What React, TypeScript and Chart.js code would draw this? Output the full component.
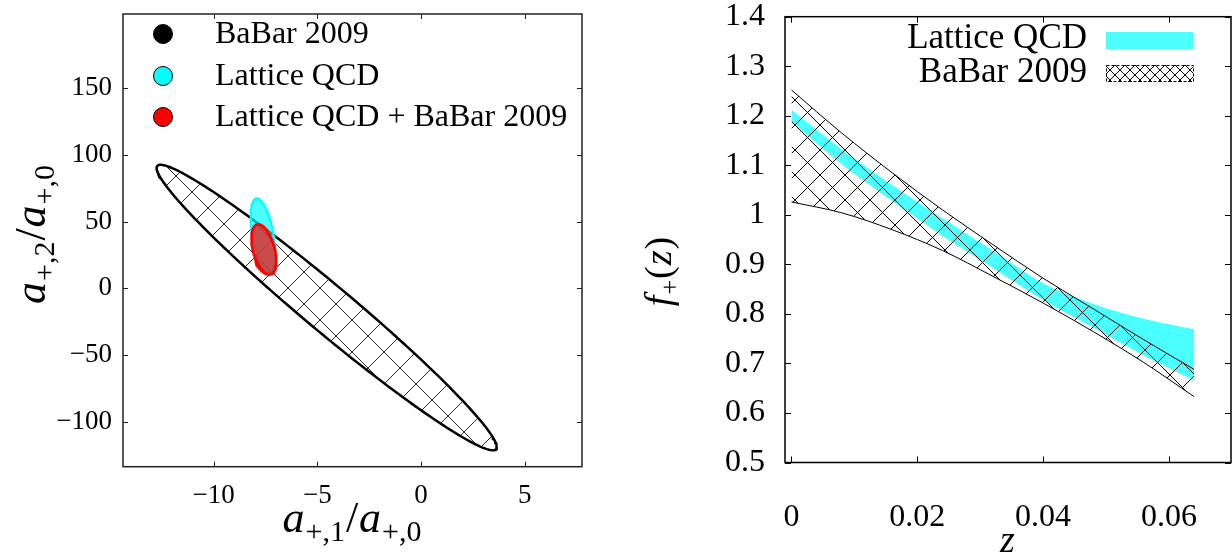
import React, { useEffect, useRef } from 'react';
import { Chart, registerables } from 'chart.js';

Chart.register(...registerables);

// ---------- Left panel data (correlation ellipses) ----------
const ellipseLabels = ['BaBar 2009', 'Lattice QCD', 'Lattice QCD + BaBar 2009'];
const ellipseCenterX = [-4.55, -7.62, -7.58];
const ellipseCenterY = [-14.4, 40.0, 29.2];
const ellipseSigmaX = [8.2, 0.6, 0.6];
const ellipseSigmaY = [107, 27.5, 18.75];
const ellipseRho = [-0.977, -0.5, -0.45];
const leftXTicks = [-10, -5, 0, 5];
const leftYTicks = [-100, -50, 0, 50, 100, 150];

// ---------- Right panel data (form factor bands) ----------
const zValues = [0, 0.008, 0.016, 0.024, 0.032, 0.04, 0.048, 0.056, 0.064];
const latticeUpper = [1.212, 1.132, 1.060, 0.993, 0.928, 0.862, 0.820, 0.790, 0.769];
const latticeLower = [1.188, 1.102, 1.028, 0.958, 0.893, 0.828, 0.772, 0.716, 0.666];
const babarUpper = [1.252, 1.165, 1.085, 1.010, 0.940, 0.872, 0.810, 0.748, 0.688];
const babarLower = [1.026, 1.004, 0.970, 0.928, 0.876, 0.822, 0.764, 0.702, 0.633];
const rightXTicks = [0, 0.02, 0.04, 0.06];
const rightYTicks = [0.5, 0.6, 0.7, 0.8, 0.9, 1.0, 1.1, 1.2, 1.3, 1.4];
const rightLegendLabels = ['Lattice QCD', 'BaBar 2009'];

const SERIF = "'Liberation Serif', 'DejaVu Serif', serif";

function ellipseOutline(i: number) {
  const pts: { x: number; y: number }[] = [];
  const n = 240;
  const s = Math.sqrt(1 - ellipseRho[i] * ellipseRho[i]);
  for (let k = 0; k <= n; k++) {
    const t = (2 * Math.PI * k) / n;
    pts.push({
      x: ellipseCenterX[i] + ellipseSigmaX[i] * Math.cos(t),
      y: ellipseCenterY[i] + ellipseSigmaY[i] * (ellipseRho[i] * Math.cos(t) + s * Math.sin(t)),
    });
  }
  return pts;
}

function makeHatch(period: number, lw: number, color: string) {
  const c = document.createElement('canvas');
  c.width = period;
  c.height = period;
  const g = c.getContext('2d')!;
  g.strokeStyle = color;
  g.lineWidth = lw;
  g.beginPath();
  g.moveTo(-1, -1);
  g.lineTo(period + 1, period + 1);
  g.moveTo(-1, period + 1);
  g.lineTo(period + 1, -1);
  g.stroke();
  return g.createPattern(c, 'repeat') as CanvasPattern;
}

type Run = { t: string; italic?: boolean; size: number; dy?: number };

function drawRuns(ctx: CanvasRenderingContext2D, runs: Run[], cx: number, baseline: number, rotate: boolean) {
  ctx.save();
  ctx.translate(cx, baseline);
  if (rotate) ctx.rotate(-Math.PI / 2);
  const fontOf = (r: Run) => `${r.italic ? 'italic ' : ''}${r.size}px ${SERIF}`;
  const widths = runs.map((r) => {
    ctx.font = fontOf(r);
    return ctx.measureText(r.t).width + 1;
  });
  const total = widths.reduce((a, b) => a + b, 0);
  let x = -total / 2;
  ctx.fillStyle = '#000';
  ctx.textBaseline = 'alphabetic';
  ctx.textAlign = 'left';
  runs.forEach((r, i) => {
    ctx.font = fontOf(r);
    ctx.fillText(r.t, x, r.dy || 0);
    x += widths[i];
  });
  ctx.restore();
}

const fmtMinus = (v: number) => (v < 0 ? '\u2212' + Math.abs(v) : String(v));
const fmtNum = (v: number) => String(+Number(v).toFixed(3));

function zeroPad(s: any) {
  s.paddingLeft = 0;
  s.paddingRight = 0;
  s.paddingTop = 0;
  s.paddingBottom = 0;
}

const leftDecor = {
  id: 'leftDecor',
  afterDraw(chart: any) {
    const ctx: CanvasRenderingContext2D = chart.ctx;
    const { left, right, top, bottom } = chart.chartArea;
    const xs = chart.scales.x;
    const ys = chart.scales.y;
    ctx.save();
    ctx.strokeStyle = '#222';
    ctx.lineWidth = 1;
    ctx.beginPath();
    leftXTicks.forEach((v) => {
      const p = Math.round(xs.getPixelForValue(v)) + 0.5;
      ctx.moveTo(p, bottom);
      ctx.lineTo(p, bottom - 5);
      ctx.moveTo(p, top);
      ctx.lineTo(p, top + 5);
    });
    leftYTicks.forEach((v) => {
      const p = Math.round(ys.getPixelForValue(v)) + 0.5;
      ctx.moveTo(left, p);
      ctx.lineTo(left + 5, p);
      ctx.moveTo(right, p);
      ctx.lineTo(right - 5, p);
    });
    ctx.stroke();
    ctx.strokeStyle = '#222';
    ctx.lineWidth = 1.5;
    ctx.strokeRect(left, top, right - left, bottom - top);

    // legend
    const markerFill = ['#000000', '#00ffff', '#ff0000'];
    const rowsY = [34, 76, 117];
    ellipseLabels.forEach((lab, i) => {
      ctx.beginPath();
      ctx.arc(163, rowsY[i], 9.5, 0, Math.PI * 2);
      ctx.fillStyle = markerFill[i];
      ctx.fill();
      ctx.strokeStyle = '#000';
      ctx.lineWidth = 1;
      ctx.stroke();
      ctx.fillStyle = '#000';
      ctx.font = `32px ${SERIF}`;
      ctx.textBaseline = 'middle';
      ctx.textAlign = 'left';
      ctx.fillText(lab, 215, rowsY[i] + 1);
    });
    ctx.restore();

    const big = 44;
    const sub = 30;
    drawRuns(
      ctx,
      [
        { t: 'a', italic: true, size: big },
        { t: '+,1', size: sub, dy: 9 },
        { t: '/', size: big },
        { t: 'a', italic: true, size: big },
        { t: '+,0', size: sub, dy: 9 },
      ],
      (left + right) / 2,
      532,
      false
    );
    drawRuns(
      ctx,
      [
        { t: 'a', italic: true, size: big },
        { t: '+,2', size: sub, dy: 9 },
        { t: '/', size: big },
        { t: 'a', italic: true, size: big },
        { t: '+,0', size: sub, dy: 9 },
      ],
      45,
      234,
      true
    );
  },
};

const rightDecor = {
  id: 'rightDecor',
  afterDraw(chart: any) {
    const ctx: CanvasRenderingContext2D = chart.ctx;
    const { left, right, top, bottom } = chart.chartArea;
    const xs = chart.scales.x;
    const ys = chart.scales.y;
    ctx.save();
    ctx.strokeStyle = '#000';
    ctx.lineWidth = 1;
    ctx.beginPath();
    rightXTicks.forEach((v) => {
      const p = Math.round(xs.getPixelForValue(v)) + 0.5;
      ctx.moveTo(p, bottom);
      ctx.lineTo(p, bottom - 6);
      ctx.moveTo(p, top);
      ctx.lineTo(p, top + 6);
    });
    rightYTicks.forEach((v) => {
      const p = Math.round(ys.getPixelForValue(v)) + 0.5;
      ctx.moveTo(left, p);
      ctx.lineTo(left + 6, p);
      ctx.moveTo(right, p);
      ctx.lineTo(right - 6, p);
    });
    ctx.stroke();
    ctx.lineWidth = 1.5;
    ctx.strokeRect(left, top, right - left, bottom - top);

    // legend (top right, inside)
    const textRight = 467;
    const swX = 486;
    const swW = 87;
    ctx.font = `35px ${SERIF}`;
    ctx.fillStyle = '#000';
    ctx.textAlign = 'right';
    ctx.textBaseline = 'middle';
    ctx.fillText(rightLegendLabels[0], textRight, 39);
    ctx.fillText(rightLegendLabels[1], textRight, 73);
    ctx.fillStyle = 'rgba(0,255,255,0.7)';
    ctx.fillRect(swX, 32, swW, 17);
    ctx.fillStyle = makeHatch(10, 1, '#000');
    ctx.fillRect(swX, 65, swW, 17);
    ctx.setLineDash([3, 2]);
    ctx.strokeStyle = '#000';
    ctx.lineWidth = 1;
    ctx.strokeRect(swX + 0.5, 65.5, swW, 16);
    ctx.setLineDash([]);
    ctx.restore();

    drawRuns(ctx, [{ t: 'z', italic: true, size: 38 }], (left + right) / 2, 552, false);
    drawRuns(
      ctx,
      [
        { t: 'f', italic: true, size: 38 },
        { t: '+', size: 26, dy: 7 },
        { t: '(', size: 38 },
        { t: 'z', italic: true, size: 38 },
        { t: ')', size: 38 },
      ],
      51,
      271,
      true
    );
  },
};

function LeftChart() {
  const ref = useRef<HTMLCanvasElement>(null);
  useEffect(() => {
    const hatch = makeHatch(32, 0.9, '#111');
    const borderColors = ['#000000', '#00ffff', '#ff0000'];
    const fills: any[] = [hatch, 'rgba(0,255,255,0.7)', 'rgba(255,0,0,0.7)'];
    const widths = [2.5, 2, 2.5];
    const chart = new Chart(ref.current!, {
      type: 'scatter',
      data: {
        datasets: ellipseLabels.map((label, i) => ({
          label,
          data: ellipseOutline(i),
          showLine: true,
          pointRadius: 0,
          borderColor: borderColors[i],
          borderWidth: widths[i],
          backgroundColor: fills[i],
          fill: 'shape',
          tension: 0,
          order: 2 - i,
        })),
      },
      options: {
        animation: false,
        responsive: false,
        devicePixelRatio: 1,
        events: [],
        layout: { padding: { left: 0, top: 14, right: 38, bottom: 0 } },
        plugins: { legend: { display: false }, tooltip: { enabled: false } },
        scales: {
          x: {
            type: 'linear',
            min: -14.37,
            max: 7.76,
            afterBuildTicks: (s: any) => {
              s.ticks = leftXTicks.map((v) => ({ value: v }));
            },
            afterFit: (s: any) => {
              s.height = 556 - 466.7;
              zeroPad(s);
            },
            grid: { display: false },
            border: { display: false },
            ticks: {
              autoSkip: false,
              maxRotation: 0,
              padding: 5,
              color: '#000',
              font: { family: SERIF, size: 27 },
              callback: (v: any) => fmtMinus(Number(v)),
            },
          },
          y: {
            type: 'linear',
            min: -133.7,
            max: 205.6,
            afterBuildTicks: (s: any) => {
              s.ticks = leftYTicks.map((v) => ({ value: v }));
            },
            afterFit: (s: any) => {
              s.width = 123;
              zeroPad(s);
            },
            grid: { display: false },
            border: { display: false },
            ticks: {
              autoSkip: false,
              padding: 3,
              color: '#000',
              font: { family: SERIF, size: 27 },
              callback: (v: any) => fmtMinus(Number(v)),
            },
          },
        },
      } as any,
      plugins: [leftDecor],
    });
    return () => chart.destroy();
  }, []);
  return (
    <canvas
      ref={ref}
      width={620}
      height={556}
      style={{ position: 'absolute', left: 0, top: 0, width: 620, height: 556 }}
    />
  );
}

function RightChart() {
  const ref = useRef<HTMLCanvasElement>(null);
  useEffect(() => {
    const hatch = makeHatch(25, 1, '#000');
    const toPts = (arr: number[]) => zValues.map((z, i) => ({ x: z, y: arr[i] }));
    const chart = new Chart(ref.current!, {
      type: 'scatter',
      data: {
        datasets: [
          {
            label: 'Lattice QCD lower',
            data: toPts(latticeLower),
            showLine: true,
            pointRadius: 0,
            borderWidth: 0,
            borderColor: 'rgba(0,0,0,0)',
            fill: false,
            cubicInterpolationMode: 'monotone',
            order: 1,
          },
          {
            label: rightLegendLabels[0],
            data: toPts(latticeUpper),
            showLine: true,
            pointRadius: 0,
            borderWidth: 0,
            borderColor: 'rgba(0,0,0,0)',
            backgroundColor: 'rgba(0,255,255,0.7)',
            fill: 0,
            cubicInterpolationMode: 'monotone',
            order: 1,
          },
          {
            label: 'BaBar 2009 lower',
            data: toPts(babarLower),
            showLine: true,
            pointRadius: 0,
            borderWidth: 1,
            borderColor: '#000',
            fill: false,
            cubicInterpolationMode: 'monotone',
            order: 0,
          },
          {
            label: rightLegendLabels[1],
            data: toPts(babarUpper),
            showLine: true,
            pointRadius: 0,
            borderWidth: 1,
            borderColor: '#000',
            backgroundColor: hatch,
            fill: 2,
            cubicInterpolationMode: 'monotone',
            order: 0,
          },
        ],
      },
      options: {
        animation: false,
        responsive: false,
        devicePixelRatio: 1,
        events: [],
        layout: { padding: { left: 0, top: 16.7, right: 1, bottom: 0 } },
        plugins: { legend: { display: false }, tooltip: { enabled: false } },
        scales: {
          x: {
            type: 'linear',
            min: -0.00103,
            max: 0.06987,
            afterBuildTicks: (s: any) => {
              s.ticks = rightXTicks.map((v) => ({ value: v }));
            },
            afterFit: (s: any) => {
              s.height = 556 - 462.5;
              zeroPad(s);
            },
            grid: { display: false },
            border: { display: false },
            ticks: {
              autoSkip: false,
              maxRotation: 0,
              padding: 28,
              color: '#000',
              font: { family: SERIF, size: 32 },
              callback: (v: any) => fmtNum(Number(v)),
            },
          },
          y: {
            type: 'linear',
            min: 0.5,
            max: 1.4,
            afterBuildTicks: (s: any) => {
              s.ticks = rightYTicks.map((v) => ({ value: v }));
            },
            afterFit: (s: any) => {
              s.width = 165;
              zeroPad(s);
            },
            grid: { display: false },
            border: { display: false },
            ticks: {
              autoSkip: false,
              padding: 12,
              color: '#000',
              font: { family: SERIF, size: 32 },
              callback: (v: any) => fmtNum(Number(v)),
            },
          },
        },
      } as any,
      plugins: [rightDecor],
    });
    return () => chart.destroy();
  }, []);
  return (
    <canvas
      ref={ref}
      width={612}
      height={556}
      style={{ position: 'absolute', left: 620, top: 0, width: 612, height: 556 }}
    />
  );
}

export default function App() {
  return (
    <div
      style={{
        position: 'absolute',
        left: 0,
        top: 0,
        width: 1232,
        height: 556,
        background: '#fff',
        overflow: 'hidden',
      }}
    >
      <LeftChart />
      <RightChart />
    </div>
  );
}
